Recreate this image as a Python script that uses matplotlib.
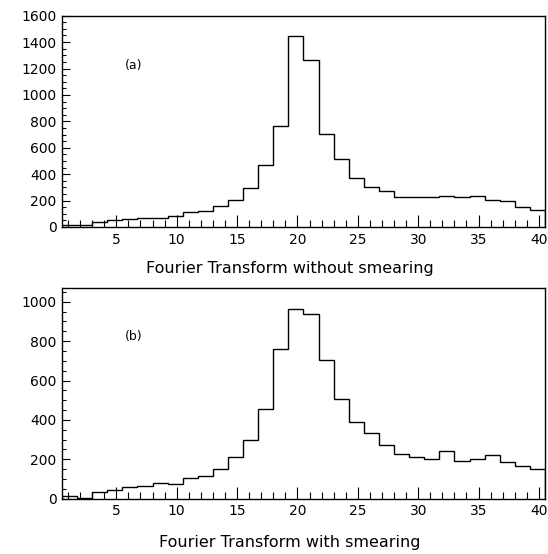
import numpy as np
import matplotlib.pyplot as plt
from matplotlib.ticker import MultipleLocator

# 32 bins of width 1.25 between 0.5 and 40.5
bin_edges = np.linspace(0.5, 40.5, 33)

counts_no_smear = [13, 13, 35, 53, 60, 68, 70, 86, 111, 121, 156, 207, 293, 472, 767, 1446,
                   1265, 707, 512, 368, 303, 275, 225, 230, 225, 237, 227, 237, 202, 194, 149, 129]
counts_smear = [14, 5, 32, 44, 59, 66, 78, 77, 103, 115, 149, 210, 298, 453, 760, 963,
                936, 706, 506, 387, 332, 272, 227, 210, 200, 240, 193, 203, 220, 184, 164, 149]

panel_labels = ["(a)", "(b)"]
x_titles = ["Fourier Transform without smearing", "Fourier Transform with smearing"]


def draw_hist(ax: plt.Axes, counts, ymax: float, label: str, label_y: float) -> None:
    """Step histogram with inward ticks, HBOOK style."""
    ax.stairs(counts, bin_edges, color="black", linewidth=1.0)
    ax.set_xlim(bin_edges[0], bin_edges[-1])
    ax.set_ylim(0, ymax)
    ax.xaxis.set_major_locator(MultipleLocator(5))
    ax.xaxis.set_minor_locator(MultipleLocator(1))
    ax.yaxis.set_major_locator(MultipleLocator(200))
    ax.yaxis.set_minor_locator(MultipleLocator(50))
    ax.tick_params(which="both", direction="in", top=False, right=False, labelsize=10, width=0.8)
    ax.tick_params(axis="x", which="major", length=9, pad=4)
    ax.tick_params(axis="x", which="minor", length=5)
    ax.tick_params(axis="y", which="major", length=6, pad=4)
    ax.tick_params(axis="y", which="minor", length=3)
    for spine in ax.spines.values():
        spine.set_linewidth(1.0)
    ax.text(5.7, label_y, label, fontsize=9, va="center", ha="left")


fig = plt.figure(figsize=(5.48, 5.54), dpi=100)
ax_a = fig.add_axes([0.1131, 0.5903, 0.8814, 0.3814])
ax_b = fig.add_axes([0.1131, 0.0998, 0.8814, 0.3798])

draw_hist(ax_a, counts_no_smear, 1600, panel_labels[0], 1219)
draw_hist(ax_b, counts_smear, 1068, panel_labels[1], 822)

fig.text(290 / 548, 1 - 268 / 554, x_titles[0], fontsize=11.5, ha="center", va="center")
fig.text(290 / 548, 1 - 543 / 554, x_titles[1], fontsize=11.5, ha="center", va="center")

fig.savefig("out.png", dpi=100)
